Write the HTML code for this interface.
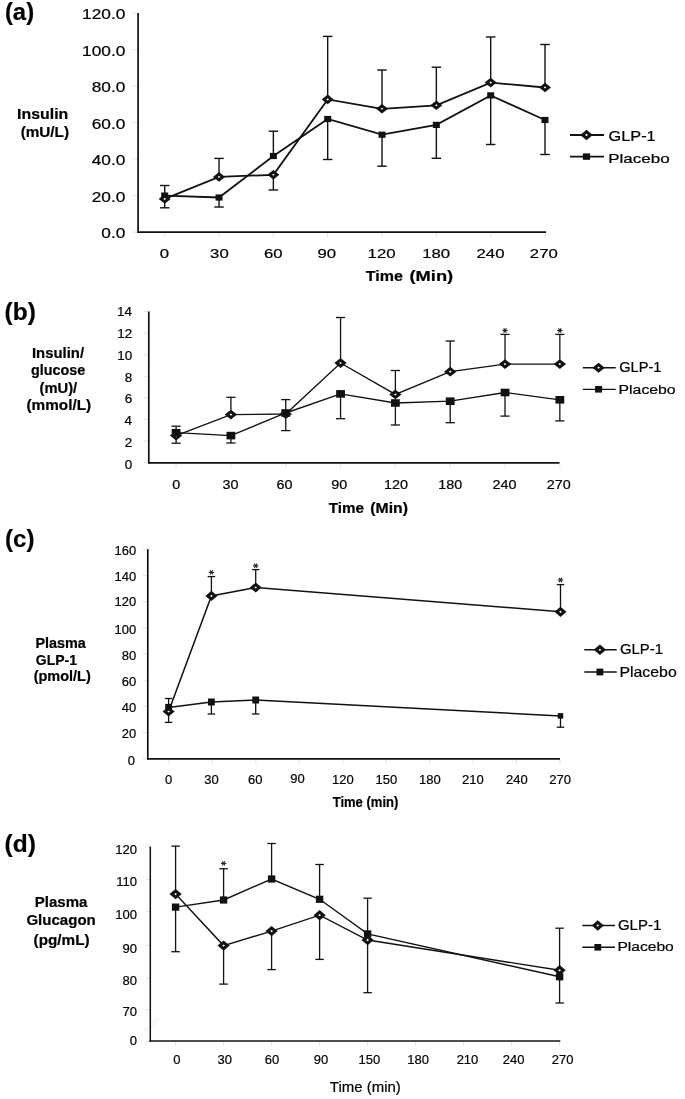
<!DOCTYPE html>
<html><head><meta charset="utf-8"><style>
html,body{margin:0;padding:0;background:#fff;}
svg{display:block;font-family:"Liberation Sans",sans-serif;filter:grayscale(1);}
text{stroke:#000;stroke-width:0.2px;}
</style></head><body>
<svg width="685" height="1099" viewBox="0 0 685 1099">
<rect width="685" height="1099" fill="#fff"/>
<line x1="144" y1="1031" x2="157.5" y2="1017.5" stroke="#e6e6e6" stroke-width="1"/>
<line x1="145.5" y1="1033" x2="159" y2="1019.5" stroke="#ececec" stroke-width="1"/>
<line x1="133.10" y1="13.10" x2="138.10" y2="13.10" stroke="#e2e2e2" stroke-width="1"/>
<line x1="133.10" y1="49.60" x2="138.10" y2="49.60" stroke="#e2e2e2" stroke-width="1"/>
<line x1="133.10" y1="86.10" x2="138.10" y2="86.10" stroke="#e2e2e2" stroke-width="1"/>
<line x1="133.10" y1="122.60" x2="138.10" y2="122.60" stroke="#e2e2e2" stroke-width="1"/>
<line x1="133.10" y1="159.10" x2="138.10" y2="159.10" stroke="#e2e2e2" stroke-width="1"/>
<line x1="133.10" y1="195.60" x2="138.10" y2="195.60" stroke="#e2e2e2" stroke-width="1"/>
<line x1="133.10" y1="232.10" x2="138.10" y2="232.10" stroke="#e2e2e2" stroke-width="1"/>
<line x1="164.70" y1="232.10" x2="164.70" y2="237.10" stroke="#e2e2e2" stroke-width="1"/>
<line x1="219.03" y1="232.10" x2="219.03" y2="237.10" stroke="#e2e2e2" stroke-width="1"/>
<line x1="273.36" y1="232.10" x2="273.36" y2="237.10" stroke="#e2e2e2" stroke-width="1"/>
<line x1="327.69" y1="232.10" x2="327.69" y2="237.10" stroke="#e2e2e2" stroke-width="1"/>
<line x1="382.02" y1="232.10" x2="382.02" y2="237.10" stroke="#e2e2e2" stroke-width="1"/>
<line x1="436.35" y1="232.10" x2="436.35" y2="237.10" stroke="#e2e2e2" stroke-width="1"/>
<line x1="490.68" y1="232.10" x2="490.68" y2="237.10" stroke="#e2e2e2" stroke-width="1"/>
<line x1="545.01" y1="232.10" x2="545.01" y2="237.10" stroke="#e2e2e2" stroke-width="1"/>
<line x1="138.10" y1="13.10" x2="138.10" y2="232.90" stroke="#111" stroke-width="1.7"/>
<line x1="137.30" y1="232.10" x2="546.00" y2="232.10" stroke="#111" stroke-width="1.7"/>
<line x1="164.70" y1="198.90" x2="164.70" y2="207.80" stroke="#111" stroke-width="1.4"/>
<line x1="159.95" y1="207.80" x2="169.45" y2="207.80" stroke="#111" stroke-width="1.4"/>
<line x1="219.03" y1="176.90" x2="219.03" y2="158.40" stroke="#111" stroke-width="1.4"/>
<line x1="214.28" y1="158.40" x2="223.78" y2="158.40" stroke="#111" stroke-width="1.4"/>
<line x1="273.36" y1="174.80" x2="273.36" y2="190.00" stroke="#111" stroke-width="1.4"/>
<line x1="268.61" y1="190.00" x2="278.11" y2="190.00" stroke="#111" stroke-width="1.4"/>
<line x1="327.69" y1="99.40" x2="327.69" y2="36.40" stroke="#111" stroke-width="1.4"/>
<line x1="322.94" y1="36.40" x2="332.44" y2="36.40" stroke="#111" stroke-width="1.4"/>
<line x1="382.02" y1="108.80" x2="382.02" y2="70.00" stroke="#111" stroke-width="1.4"/>
<line x1="377.27" y1="70.00" x2="386.77" y2="70.00" stroke="#111" stroke-width="1.4"/>
<line x1="436.35" y1="105.30" x2="436.35" y2="67.20" stroke="#111" stroke-width="1.4"/>
<line x1="431.60" y1="67.20" x2="441.10" y2="67.20" stroke="#111" stroke-width="1.4"/>
<line x1="490.68" y1="82.60" x2="490.68" y2="37.00" stroke="#111" stroke-width="1.4"/>
<line x1="485.93" y1="37.00" x2="495.43" y2="37.00" stroke="#111" stroke-width="1.4"/>
<line x1="545.01" y1="87.50" x2="545.01" y2="44.50" stroke="#111" stroke-width="1.4"/>
<line x1="540.26" y1="44.50" x2="549.76" y2="44.50" stroke="#111" stroke-width="1.4"/>
<line x1="164.70" y1="195.60" x2="164.70" y2="185.50" stroke="#111" stroke-width="1.4"/>
<line x1="159.95" y1="185.50" x2="169.45" y2="185.50" stroke="#111" stroke-width="1.4"/>
<line x1="219.03" y1="197.50" x2="219.03" y2="207.00" stroke="#111" stroke-width="1.4"/>
<line x1="214.28" y1="207.00" x2="223.78" y2="207.00" stroke="#111" stroke-width="1.4"/>
<line x1="273.36" y1="156.00" x2="273.36" y2="131.20" stroke="#111" stroke-width="1.4"/>
<line x1="268.61" y1="131.20" x2="278.11" y2="131.20" stroke="#111" stroke-width="1.4"/>
<line x1="327.69" y1="119.00" x2="327.69" y2="159.50" stroke="#111" stroke-width="1.4"/>
<line x1="322.94" y1="159.50" x2="332.44" y2="159.50" stroke="#111" stroke-width="1.4"/>
<line x1="382.02" y1="134.70" x2="382.02" y2="166.20" stroke="#111" stroke-width="1.4"/>
<line x1="377.27" y1="166.20" x2="386.77" y2="166.20" stroke="#111" stroke-width="1.4"/>
<line x1="436.35" y1="124.90" x2="436.35" y2="158.30" stroke="#111" stroke-width="1.4"/>
<line x1="431.60" y1="158.30" x2="441.10" y2="158.30" stroke="#111" stroke-width="1.4"/>
<line x1="490.68" y1="95.40" x2="490.68" y2="144.50" stroke="#111" stroke-width="1.4"/>
<line x1="485.93" y1="144.50" x2="495.43" y2="144.50" stroke="#111" stroke-width="1.4"/>
<line x1="545.01" y1="120.00" x2="545.01" y2="154.50" stroke="#111" stroke-width="1.4"/>
<line x1="540.26" y1="154.50" x2="549.76" y2="154.50" stroke="#111" stroke-width="1.4"/>
<polyline points="164.70,195.60 219.03,197.50 273.36,156.00 327.69,119.00 382.02,134.70 436.35,124.90 490.68,95.40 545.01,120.00" fill="none" stroke="#111" stroke-width="1.8" stroke-linejoin="miter"/>
<polyline points="164.70,198.90 219.03,176.90 273.36,174.80 327.69,99.40 382.02,108.80 436.35,105.30 490.68,82.60 545.01,87.50" fill="none" stroke="#111" stroke-width="1.8" stroke-linejoin="miter"/>
<rect x="161.20" y="192.50" width="7.00" height="6.20" fill="#111"/>
<rect x="215.53" y="194.40" width="7.00" height="6.20" fill="#111"/>
<rect x="269.86" y="152.90" width="7.00" height="6.20" fill="#111"/>
<rect x="324.19" y="115.90" width="7.00" height="6.20" fill="#111"/>
<rect x="378.52" y="131.60" width="7.00" height="6.20" fill="#111"/>
<rect x="432.85" y="121.80" width="7.00" height="6.20" fill="#111"/>
<rect x="487.18" y="92.30" width="7.00" height="6.20" fill="#111"/>
<rect x="541.51" y="116.90" width="7.00" height="6.20" fill="#111"/>
<path d="M158.70,198.90 L164.70,194.10 L170.70,198.90 L164.70,203.70 Z" fill="#111"/>
<path d="M163.38,198.90 L164.70,197.84 L166.02,198.90 L164.70,199.96 Z" fill="#fff"/>
<path d="M213.03,176.90 L219.03,172.10 L225.03,176.90 L219.03,181.70 Z" fill="#111"/>
<path d="M217.71,176.90 L219.03,175.84 L220.35,176.90 L219.03,177.96 Z" fill="#fff"/>
<path d="M267.36,174.80 L273.36,170.00 L279.36,174.80 L273.36,179.60 Z" fill="#111"/>
<path d="M272.04,174.80 L273.36,173.74 L274.68,174.80 L273.36,175.86 Z" fill="#fff"/>
<path d="M321.69,99.40 L327.69,94.60 L333.69,99.40 L327.69,104.20 Z" fill="#111"/>
<path d="M326.37,99.40 L327.69,98.34 L329.01,99.40 L327.69,100.46 Z" fill="#fff"/>
<path d="M376.02,108.80 L382.02,104.00 L388.02,108.80 L382.02,113.60 Z" fill="#111"/>
<path d="M380.70,108.80 L382.02,107.74 L383.34,108.80 L382.02,109.86 Z" fill="#fff"/>
<path d="M430.35,105.30 L436.35,100.50 L442.35,105.30 L436.35,110.10 Z" fill="#111"/>
<path d="M435.03,105.30 L436.35,104.24 L437.67,105.30 L436.35,106.36 Z" fill="#fff"/>
<path d="M484.68,82.60 L490.68,77.80 L496.68,82.60 L490.68,87.40 Z" fill="#111"/>
<path d="M489.36,82.60 L490.68,81.54 L492.00,82.60 L490.68,83.66 Z" fill="#fff"/>
<path d="M539.01,87.50 L545.01,82.70 L551.01,87.50 L545.01,92.30 Z" fill="#111"/>
<path d="M543.69,87.50 L545.01,86.44 L546.33,87.50 L545.01,88.56 Z" fill="#fff"/>
<line x1="570.00" y1="135.00" x2="604.00" y2="135.00" stroke="#111" stroke-width="1.8"/>
<path d="M580.20,135.00 L586.50,129.80 L592.80,135.00 L586.50,140.20 Z" fill="#111"/>
<path d="M585.11,135.00 L586.50,133.86 L587.89,135.00 L586.50,136.14 Z" fill="#fff"/>
<line x1="570.00" y1="156.60" x2="604.00" y2="156.60" stroke="#111" stroke-width="1.8"/>
<rect x="582.90" y="153.40" width="7.20" height="6.40" fill="#111"/>
<text transform="translate(4.91,20.30) scale(1.0247,1)" font-size="23.3" font-weight="bold" fill="#000">(a)</text>
<text transform="translate(17.02,118.90) scale(1.1218,1)" font-size="14.2" font-weight="bold" fill="#000">Insulin</text>
<text transform="translate(20.63,136.50) scale(1.0626,1)" font-size="14.4" font-weight="bold" fill="#000">(mU/L)</text>
<text transform="translate(82.08,19.10) scale(1.2350,1)" font-size="14.0" font-weight="normal">120.0</text>
<text transform="translate(82.08,55.60) scale(1.2350,1)" font-size="14.0" font-weight="normal">100.0</text>
<text transform="translate(91.72,92.10) scale(1.2350,1)" font-size="14.0" font-weight="normal">80.0</text>
<text transform="translate(91.72,128.60) scale(1.2350,1)" font-size="14.0" font-weight="normal">60.0</text>
<text transform="translate(91.72,165.10) scale(1.2350,1)" font-size="14.0" font-weight="normal">40.0</text>
<text transform="translate(91.72,201.60) scale(1.2350,1)" font-size="14.0" font-weight="normal">20.0</text>
<text transform="translate(101.32,238.10) scale(1.2350,1)" font-size="14.0" font-weight="normal">0.0</text>
<text transform="translate(159.63,257.50) scale(1.2600,1)" font-size="13.3" font-weight="normal">0</text>
<text transform="translate(210.10,257.50) scale(1.2600,1)" font-size="13.3" font-weight="normal">30</text>
<text transform="translate(263.99,257.50) scale(1.2600,1)" font-size="13.3" font-weight="normal">60</text>
<text transform="translate(317.42,257.50) scale(1.2600,1)" font-size="13.3" font-weight="normal">90</text>
<text transform="translate(367.61,257.50) scale(1.2600,1)" font-size="13.3" font-weight="normal">120</text>
<text transform="translate(422.16,257.50) scale(1.2600,1)" font-size="13.3" font-weight="normal">180</text>
<text transform="translate(476.52,257.50) scale(1.2600,1)" font-size="13.3" font-weight="normal">240</text>
<text transform="translate(529.82,257.50) scale(1.2600,1)" font-size="13.3" font-weight="normal">270</text>
<text transform="translate(365.84,280.50) scale(1.1575,1)" font-size="13.8" font-weight="bold" fill="#000">Time</text>
<text transform="translate(409.48,280.50) scale(1.3273,1)" font-size="13.8" font-weight="bold" fill="#000">(Min)</text>
<text transform="translate(608.48,141.00) scale(1.1833,1)" font-size="13.8" font-weight="normal" fill="#000">GLP-1</text>
<text transform="translate(608.19,162.70) scale(1.2723,1)" font-size="13.4" font-weight="normal" fill="#000">Placebo</text>
<line x1="143.80" y1="311.50" x2="148.80" y2="311.50" stroke="#e2e2e2" stroke-width="1"/>
<line x1="143.80" y1="333.11" x2="148.80" y2="333.11" stroke="#e2e2e2" stroke-width="1"/>
<line x1="143.80" y1="354.73" x2="148.80" y2="354.73" stroke="#e2e2e2" stroke-width="1"/>
<line x1="143.80" y1="376.34" x2="148.80" y2="376.34" stroke="#e2e2e2" stroke-width="1"/>
<line x1="143.80" y1="397.96" x2="148.80" y2="397.96" stroke="#e2e2e2" stroke-width="1"/>
<line x1="143.80" y1="419.57" x2="148.80" y2="419.57" stroke="#e2e2e2" stroke-width="1"/>
<line x1="143.80" y1="441.18" x2="148.80" y2="441.18" stroke="#e2e2e2" stroke-width="1"/>
<line x1="143.80" y1="462.80" x2="148.80" y2="462.80" stroke="#e2e2e2" stroke-width="1"/>
<line x1="176.10" y1="462.80" x2="176.10" y2="467.80" stroke="#e2e2e2" stroke-width="1"/>
<line x1="230.92" y1="462.80" x2="230.92" y2="467.80" stroke="#e2e2e2" stroke-width="1"/>
<line x1="285.74" y1="462.80" x2="285.74" y2="467.80" stroke="#e2e2e2" stroke-width="1"/>
<line x1="340.56" y1="462.80" x2="340.56" y2="467.80" stroke="#e2e2e2" stroke-width="1"/>
<line x1="395.38" y1="462.80" x2="395.38" y2="467.80" stroke="#e2e2e2" stroke-width="1"/>
<line x1="450.20" y1="462.80" x2="450.20" y2="467.80" stroke="#e2e2e2" stroke-width="1"/>
<line x1="505.02" y1="462.80" x2="505.02" y2="467.80" stroke="#e2e2e2" stroke-width="1"/>
<line x1="559.84" y1="462.80" x2="559.84" y2="467.80" stroke="#e2e2e2" stroke-width="1"/>
<line x1="148.80" y1="311.50" x2="148.80" y2="463.60" stroke="#111" stroke-width="1.7"/>
<line x1="148.00" y1="462.80" x2="559.50" y2="462.80" stroke="#111" stroke-width="1.7"/>
<line x1="176.10" y1="435.60" x2="176.10" y2="443.20" stroke="#111" stroke-width="1.3"/>
<line x1="171.50" y1="443.20" x2="180.70" y2="443.20" stroke="#111" stroke-width="1.3"/>
<line x1="230.92" y1="414.60" x2="230.92" y2="397.30" stroke="#111" stroke-width="1.3"/>
<line x1="226.32" y1="397.30" x2="235.52" y2="397.30" stroke="#111" stroke-width="1.3"/>
<line x1="285.74" y1="414.00" x2="285.74" y2="430.60" stroke="#111" stroke-width="1.3"/>
<line x1="281.14" y1="430.60" x2="290.34" y2="430.60" stroke="#111" stroke-width="1.3"/>
<line x1="340.56" y1="363.00" x2="340.56" y2="317.50" stroke="#111" stroke-width="1.3"/>
<line x1="335.96" y1="317.50" x2="345.16" y2="317.50" stroke="#111" stroke-width="1.3"/>
<line x1="395.38" y1="394.40" x2="395.38" y2="370.50" stroke="#111" stroke-width="1.3"/>
<line x1="390.78" y1="370.50" x2="399.98" y2="370.50" stroke="#111" stroke-width="1.3"/>
<line x1="450.20" y1="371.70" x2="450.20" y2="341.00" stroke="#111" stroke-width="1.3"/>
<line x1="445.60" y1="341.00" x2="454.80" y2="341.00" stroke="#111" stroke-width="1.3"/>
<line x1="505.02" y1="364.10" x2="505.02" y2="334.40" stroke="#111" stroke-width="1.3"/>
<line x1="500.42" y1="334.40" x2="509.62" y2="334.40" stroke="#111" stroke-width="1.3"/>
<line x1="559.84" y1="364.10" x2="559.84" y2="334.40" stroke="#111" stroke-width="1.3"/>
<line x1="555.24" y1="334.40" x2="564.44" y2="334.40" stroke="#111" stroke-width="1.3"/>
<line x1="176.10" y1="432.70" x2="176.10" y2="426.20" stroke="#111" stroke-width="1.3"/>
<line x1="171.50" y1="426.20" x2="180.70" y2="426.20" stroke="#111" stroke-width="1.3"/>
<line x1="230.92" y1="435.60" x2="230.92" y2="443.00" stroke="#111" stroke-width="1.3"/>
<line x1="226.32" y1="443.00" x2="235.52" y2="443.00" stroke="#111" stroke-width="1.3"/>
<line x1="285.74" y1="413.00" x2="285.74" y2="399.60" stroke="#111" stroke-width="1.3"/>
<line x1="281.14" y1="399.60" x2="290.34" y2="399.60" stroke="#111" stroke-width="1.3"/>
<line x1="340.56" y1="393.90" x2="340.56" y2="418.70" stroke="#111" stroke-width="1.3"/>
<line x1="335.96" y1="418.70" x2="345.16" y2="418.70" stroke="#111" stroke-width="1.3"/>
<line x1="395.38" y1="403.00" x2="395.38" y2="425.00" stroke="#111" stroke-width="1.3"/>
<line x1="390.78" y1="425.00" x2="399.98" y2="425.00" stroke="#111" stroke-width="1.3"/>
<line x1="450.20" y1="401.20" x2="450.20" y2="422.70" stroke="#111" stroke-width="1.3"/>
<line x1="445.60" y1="422.70" x2="454.80" y2="422.70" stroke="#111" stroke-width="1.3"/>
<line x1="505.02" y1="392.50" x2="505.02" y2="416.10" stroke="#111" stroke-width="1.3"/>
<line x1="500.42" y1="416.10" x2="509.62" y2="416.10" stroke="#111" stroke-width="1.3"/>
<line x1="559.84" y1="399.80" x2="559.84" y2="420.90" stroke="#111" stroke-width="1.3"/>
<line x1="555.24" y1="420.90" x2="564.44" y2="420.90" stroke="#111" stroke-width="1.3"/>
<polyline points="176.10,432.70 230.92,435.60 285.74,413.00 340.56,393.90 395.38,403.00 450.20,401.20 505.02,392.50 559.84,399.80" fill="none" stroke="#111" stroke-width="1.35" stroke-linejoin="miter"/>
<polyline points="176.10,435.60 230.92,414.60 285.74,414.00 340.56,363.00 395.38,394.40 450.20,371.70 505.02,364.10 559.84,364.10" fill="none" stroke="#111" stroke-width="1.35" stroke-linejoin="miter"/>
<path d="M169.90,435.60 L176.10,430.70 L182.30,435.60 L176.10,440.50 Z" fill="#111"/>
<path d="M174.74,435.60 L176.10,434.52 L177.46,435.60 L176.10,436.68 Z" fill="#fff"/>
<path d="M224.72,414.60 L230.92,409.70 L237.12,414.60 L230.92,419.50 Z" fill="#111"/>
<path d="M229.56,414.60 L230.92,413.52 L232.28,414.60 L230.92,415.68 Z" fill="#fff"/>
<path d="M279.54,414.00 L285.74,409.10 L291.94,414.00 L285.74,418.90 Z" fill="#111"/>
<path d="M284.38,414.00 L285.74,412.92 L287.10,414.00 L285.74,415.08 Z" fill="#fff"/>
<path d="M334.36,363.00 L340.56,358.10 L346.76,363.00 L340.56,367.90 Z" fill="#111"/>
<path d="M339.20,363.00 L340.56,361.92 L341.92,363.00 L340.56,364.08 Z" fill="#fff"/>
<path d="M389.18,394.40 L395.38,389.50 L401.58,394.40 L395.38,399.30 Z" fill="#111"/>
<path d="M394.02,394.40 L395.38,393.32 L396.74,394.40 L395.38,395.48 Z" fill="#fff"/>
<path d="M444.00,371.70 L450.20,366.80 L456.40,371.70 L450.20,376.60 Z" fill="#111"/>
<path d="M448.84,371.70 L450.20,370.62 L451.56,371.70 L450.20,372.78 Z" fill="#fff"/>
<path d="M498.82,364.10 L505.02,359.20 L511.22,364.10 L505.02,369.00 Z" fill="#111"/>
<path d="M503.66,364.10 L505.02,363.02 L506.38,364.10 L505.02,365.18 Z" fill="#fff"/>
<path d="M553.64,364.10 L559.84,359.20 L566.04,364.10 L559.84,369.00 Z" fill="#111"/>
<path d="M558.48,364.10 L559.84,363.02 L561.20,364.10 L559.84,365.18 Z" fill="#fff"/>
<rect x="171.70" y="428.90" width="8.80" height="7.60" fill="#111"/>
<rect x="226.52" y="431.80" width="8.80" height="7.60" fill="#111"/>
<rect x="281.34" y="409.20" width="8.80" height="7.60" fill="#111"/>
<rect x="336.16" y="390.10" width="8.80" height="7.60" fill="#111"/>
<rect x="390.98" y="399.20" width="8.80" height="7.60" fill="#111"/>
<rect x="445.80" y="397.40" width="8.80" height="7.60" fill="#111"/>
<rect x="500.62" y="388.70" width="8.80" height="7.60" fill="#111"/>
<rect x="555.44" y="396.00" width="8.80" height="7.60" fill="#111"/>
<line x1="502.32" y1="330.50" x2="507.72" y2="330.50" stroke="#222" stroke-width="1.1"/>
<line x1="503.67" y1="328.35" x2="506.37" y2="332.65" stroke="#222" stroke-width="1.1"/>
<line x1="506.37" y1="328.35" x2="503.67" y2="332.65" stroke="#222" stroke-width="1.1"/>
<line x1="557.14" y1="330.50" x2="562.54" y2="330.50" stroke="#222" stroke-width="1.1"/>
<line x1="558.49" y1="328.35" x2="561.19" y2="332.65" stroke="#222" stroke-width="1.1"/>
<line x1="561.19" y1="328.35" x2="558.49" y2="332.65" stroke="#222" stroke-width="1.1"/>
<line x1="582.80" y1="367.70" x2="615.70" y2="367.70" stroke="#111" stroke-width="1.35"/>
<path d="M592.40,367.70 L598.60,362.70 L604.80,367.70 L598.60,372.70 Z" fill="#111"/>
<path d="M597.24,367.70 L598.60,366.60 L599.96,367.70 L598.60,368.80 Z" fill="#fff"/>
<line x1="582.80" y1="389.30" x2="615.70" y2="389.30" stroke="#111" stroke-width="1.35"/>
<rect x="595.10" y="386.00" width="7.00" height="6.60" fill="#111"/>
<text transform="translate(4.58,320.30) scale(1.0497,1)" font-size="23.3" font-weight="bold" fill="#000">(b)</text>
<text transform="translate(31.99,358.40) scale(1.0644,1)" font-size="14.0" font-weight="bold" fill="#000">Insulin/</text>
<text transform="translate(31.03,374.90) scale(1.0256,1)" font-size="14.0" font-weight="bold" fill="#000">glucose</text>
<text transform="translate(39.56,392.70) scale(1.0535,1)" font-size="14.0" font-weight="bold" fill="#000">(mU)/</text>
<text transform="translate(26.43,409.70) scale(1.0950,1)" font-size="14.0" font-weight="bold" fill="#000">(mmol/L)</text>
<text transform="translate(117.04,316.40) scale(1.0760,1)" font-size="12.5" font-weight="normal">14</text>
<text transform="translate(117.34,338.30) scale(1.0760,1)" font-size="12.5" font-weight="normal">12</text>
<text transform="translate(117.17,360.40) scale(1.0760,1)" font-size="12.5" font-weight="normal">10</text>
<text transform="translate(124.71,382.00) scale(1.0760,1)" font-size="12.5" font-weight="normal">8</text>
<text transform="translate(124.71,403.30) scale(1.0760,1)" font-size="12.5" font-weight="normal">6</text>
<text transform="translate(124.51,425.20) scale(1.0760,1)" font-size="12.5" font-weight="normal">4</text>
<text transform="translate(124.81,446.80) scale(1.0760,1)" font-size="12.5" font-weight="normal">2</text>
<text transform="translate(124.64,468.70) scale(1.0760,1)" font-size="12.5" font-weight="normal">0</text>
<text transform="translate(172.20,489.30) scale(1.0760,1)" font-size="13.35" font-weight="normal">0</text>
<text transform="translate(222.53,489.30) scale(1.0760,1)" font-size="13.35" font-weight="normal">30</text>
<text transform="translate(276.44,489.30) scale(1.0760,1)" font-size="13.35" font-weight="normal">60</text>
<text transform="translate(331.26,489.30) scale(1.0760,1)" font-size="13.35" font-weight="normal">90</text>
<text transform="translate(383.95,489.30) scale(1.0760,1)" font-size="13.35" font-weight="normal">120</text>
<text transform="translate(438.35,489.30) scale(1.0760,1)" font-size="13.35" font-weight="normal">180</text>
<text transform="translate(492.43,489.30) scale(1.0760,1)" font-size="13.35" font-weight="normal">240</text>
<text transform="translate(546.83,489.30) scale(1.0760,1)" font-size="13.35" font-weight="normal">270</text>
<text transform="translate(328.75,513.40) scale(1.1001,1)" font-size="13.8" font-weight="bold" fill="#000">Time</text>
<text transform="translate(370.21,513.40) scale(1.1467,1)" font-size="13.8" font-weight="bold" fill="#000">(Min)</text>
<text transform="translate(619.17,372.10) scale(1.0436,1)" font-size="14.0" font-weight="normal" fill="#000">GLP-1</text>
<text transform="translate(618.60,394.20) scale(1.1782,1)" font-size="13.4" font-weight="normal" fill="#000">Placebo</text>
<line x1="142.80" y1="549.20" x2="147.80" y2="549.20" stroke="#e2e2e2" stroke-width="1"/>
<line x1="142.80" y1="575.40" x2="147.80" y2="575.40" stroke="#e2e2e2" stroke-width="1"/>
<line x1="142.80" y1="601.60" x2="147.80" y2="601.60" stroke="#e2e2e2" stroke-width="1"/>
<line x1="142.80" y1="627.80" x2="147.80" y2="627.80" stroke="#e2e2e2" stroke-width="1"/>
<line x1="142.80" y1="654.00" x2="147.80" y2="654.00" stroke="#e2e2e2" stroke-width="1"/>
<line x1="142.80" y1="680.20" x2="147.80" y2="680.20" stroke="#e2e2e2" stroke-width="1"/>
<line x1="142.80" y1="706.40" x2="147.80" y2="706.40" stroke="#e2e2e2" stroke-width="1"/>
<line x1="142.80" y1="732.60" x2="147.80" y2="732.60" stroke="#e2e2e2" stroke-width="1"/>
<line x1="142.80" y1="758.80" x2="147.80" y2="758.80" stroke="#e2e2e2" stroke-width="1"/>
<line x1="168.90" y1="758.80" x2="168.90" y2="763.80" stroke="#e2e2e2" stroke-width="1"/>
<line x1="212.36" y1="758.80" x2="212.36" y2="763.80" stroke="#e2e2e2" stroke-width="1"/>
<line x1="255.81" y1="758.80" x2="255.81" y2="763.80" stroke="#e2e2e2" stroke-width="1"/>
<line x1="299.27" y1="758.80" x2="299.27" y2="763.80" stroke="#e2e2e2" stroke-width="1"/>
<line x1="342.72" y1="758.80" x2="342.72" y2="763.80" stroke="#e2e2e2" stroke-width="1"/>
<line x1="386.18" y1="758.80" x2="386.18" y2="763.80" stroke="#e2e2e2" stroke-width="1"/>
<line x1="429.63" y1="758.80" x2="429.63" y2="763.80" stroke="#e2e2e2" stroke-width="1"/>
<line x1="473.09" y1="758.80" x2="473.09" y2="763.80" stroke="#e2e2e2" stroke-width="1"/>
<line x1="516.54" y1="758.80" x2="516.54" y2="763.80" stroke="#e2e2e2" stroke-width="1"/>
<line x1="560.00" y1="758.80" x2="560.00" y2="763.80" stroke="#e2e2e2" stroke-width="1"/>
<line x1="147.80" y1="549.20" x2="147.80" y2="759.60" stroke="#111" stroke-width="1.7"/>
<line x1="147.00" y1="758.80" x2="560.00" y2="758.80" stroke="#111" stroke-width="1.7"/>
<line x1="168.60" y1="711.50" x2="168.60" y2="722.40" stroke="#111" stroke-width="1.3"/>
<line x1="164.85" y1="722.40" x2="172.35" y2="722.40" stroke="#111" stroke-width="1.3"/>
<line x1="211.40" y1="595.90" x2="211.40" y2="576.60" stroke="#111" stroke-width="1.3"/>
<line x1="207.65" y1="576.60" x2="215.15" y2="576.60" stroke="#111" stroke-width="1.3"/>
<line x1="255.70" y1="587.50" x2="255.70" y2="569.60" stroke="#111" stroke-width="1.3"/>
<line x1="251.95" y1="569.60" x2="259.45" y2="569.60" stroke="#111" stroke-width="1.3"/>
<line x1="560.50" y1="611.80" x2="560.50" y2="584.60" stroke="#111" stroke-width="1.3"/>
<line x1="556.75" y1="584.60" x2="564.25" y2="584.60" stroke="#111" stroke-width="1.3"/>
<line x1="168.60" y1="707.40" x2="168.60" y2="698.50" stroke="#111" stroke-width="1.3"/>
<line x1="164.85" y1="698.50" x2="172.35" y2="698.50" stroke="#111" stroke-width="1.3"/>
<line x1="211.40" y1="702.00" x2="211.40" y2="714.00" stroke="#111" stroke-width="1.3"/>
<line x1="207.65" y1="714.00" x2="215.15" y2="714.00" stroke="#111" stroke-width="1.3"/>
<line x1="255.70" y1="700.00" x2="255.70" y2="714.00" stroke="#111" stroke-width="1.3"/>
<line x1="251.95" y1="714.00" x2="259.45" y2="714.00" stroke="#111" stroke-width="1.3"/>
<line x1="560.50" y1="715.80" x2="560.50" y2="727.20" stroke="#111" stroke-width="1.3"/>
<line x1="556.75" y1="727.20" x2="564.25" y2="727.20" stroke="#111" stroke-width="1.3"/>
<polyline points="168.60,707.40 211.40,702.00 255.70,700.00 560.50,715.90" fill="none" stroke="#111" stroke-width="1.5" stroke-linejoin="miter"/>
<polyline points="168.60,711.50 211.40,595.90 255.70,587.50 560.50,611.80" fill="none" stroke="#111" stroke-width="1.5" stroke-linejoin="miter"/>
<rect x="165.20" y="703.90" width="6.80" height="7.00" fill="#111"/>
<rect x="208.00" y="698.50" width="6.80" height="7.00" fill="#111"/>
<rect x="252.30" y="696.50" width="6.80" height="7.00" fill="#111"/>
<rect x="557.75" y="713.15" width="5.50" height="5.50" fill="#111"/>
<path d="M162.60,711.50 L168.60,706.40 L174.60,711.50 L168.60,716.60 Z" fill="#111"/>
<path d="M167.28,711.50 L168.60,710.38 L169.92,711.50 L168.60,712.62 Z" fill="#fff"/>
<path d="M205.40,595.90 L211.40,590.80 L217.40,595.90 L211.40,601.00 Z" fill="#111"/>
<path d="M210.08,595.90 L211.40,594.78 L212.72,595.90 L211.40,597.02 Z" fill="#fff"/>
<path d="M249.70,587.50 L255.70,582.40 L261.70,587.50 L255.70,592.60 Z" fill="#111"/>
<path d="M254.38,587.50 L255.70,586.38 L257.02,587.50 L255.70,588.62 Z" fill="#fff"/>
<path d="M554.50,611.80 L560.50,606.70 L566.50,611.80 L560.50,616.90 Z" fill="#111"/>
<path d="M559.18,611.80 L560.50,610.68 L561.82,611.80 L560.50,612.92 Z" fill="#fff"/>
<line x1="208.70" y1="572.40" x2="214.10" y2="572.40" stroke="#222" stroke-width="1.1"/>
<line x1="210.05" y1="570.25" x2="212.75" y2="574.55" stroke="#222" stroke-width="1.1"/>
<line x1="212.75" y1="570.25" x2="210.05" y2="574.55" stroke="#222" stroke-width="1.1"/>
<line x1="253.00" y1="565.80" x2="258.40" y2="565.80" stroke="#222" stroke-width="1.1"/>
<line x1="254.35" y1="563.65" x2="257.05" y2="567.95" stroke="#222" stroke-width="1.1"/>
<line x1="257.05" y1="563.65" x2="254.35" y2="567.95" stroke="#222" stroke-width="1.1"/>
<line x1="557.80" y1="580.00" x2="563.20" y2="580.00" stroke="#222" stroke-width="1.1"/>
<line x1="559.15" y1="577.85" x2="561.85" y2="582.15" stroke="#222" stroke-width="1.1"/>
<line x1="561.85" y1="577.85" x2="559.15" y2="582.15" stroke="#222" stroke-width="1.1"/>
<line x1="584.30" y1="649.80" x2="616.70" y2="649.80" stroke="#111" stroke-width="1.5"/>
<path d="M593.70,649.80 L599.90,644.50 L606.10,649.80 L599.90,655.10 Z" fill="#111"/>
<path d="M598.54,649.80 L599.90,648.63 L601.26,649.80 L599.90,650.97 Z" fill="#fff"/>
<line x1="584.30" y1="672.00" x2="616.70" y2="672.00" stroke="#111" stroke-width="1.5"/>
<rect x="596.50" y="668.60" width="6.80" height="6.80" fill="#111"/>
<text transform="translate(4.99,546.80) scale(1.0362,1)" font-size="23.3" font-weight="bold" fill="#000">(c)</text>
<text transform="translate(35.43,647.60) scale(1.0420,1)" font-size="13.8" font-weight="bold" fill="#000">Plasma</text>
<text transform="translate(35.84,664.80) scale(1.0132,1)" font-size="13.8" font-weight="bold" fill="#000">GLP-1</text>
<text transform="translate(33.68,680.80) scale(1.0504,1)" font-size="13.8" font-weight="bold" fill="#000">(pmol/L)</text>
<text transform="translate(114.61,555.00) scale(0.9850,1)" font-size="13.2" font-weight="normal">160</text>
<text transform="translate(114.61,581.20) scale(0.9850,1)" font-size="13.2" font-weight="normal">140</text>
<text transform="translate(114.61,606.40) scale(0.9850,1)" font-size="13.2" font-weight="normal">120</text>
<text transform="translate(114.61,633.60) scale(0.9850,1)" font-size="13.2" font-weight="normal">100</text>
<text transform="translate(121.86,659.80) scale(0.9850,1)" font-size="13.2" font-weight="normal">80</text>
<text transform="translate(121.86,686.00) scale(0.9850,1)" font-size="13.2" font-weight="normal">60</text>
<text transform="translate(121.86,712.20) scale(0.9850,1)" font-size="13.2" font-weight="normal">40</text>
<text transform="translate(121.86,738.40) scale(0.9850,1)" font-size="13.2" font-weight="normal">20</text>
<text transform="translate(127.67,764.60) scale(0.9850,1)" font-size="13.2" font-weight="normal">0</text>
<text transform="translate(165.03,784.00) scale(1.0000,1)" font-size="13.0" font-weight="normal">0</text>
<text transform="translate(204.28,784.00) scale(1.0000,1)" font-size="13.0" font-weight="normal">30</text>
<text transform="translate(248.05,784.00) scale(1.0000,1)" font-size="13.0" font-weight="normal">60</text>
<text transform="translate(290.27,782.80) scale(1.0000,1)" font-size="13.0" font-weight="normal">90</text>
<text transform="translate(331.92,784.00) scale(1.0000,1)" font-size="13.0" font-weight="normal">120</text>
<text transform="translate(375.42,784.00) scale(1.0000,1)" font-size="13.0" font-weight="normal">150</text>
<text transform="translate(419.02,784.00) scale(1.0000,1)" font-size="13.0" font-weight="normal">180</text>
<text transform="translate(462.08,784.00) scale(1.0000,1)" font-size="13.0" font-weight="normal">210</text>
<text transform="translate(505.98,784.00) scale(1.0000,1)" font-size="13.0" font-weight="normal">240</text>
<text transform="translate(549.18,784.00) scale(1.0000,1)" font-size="13.0" font-weight="normal">270</text>
<text transform="translate(332.67,807.00) scale(0.9182,1)" font-size="14.2" font-weight="bold" fill="#000">Time (min)</text>
<text transform="translate(619.96,654.30) scale(1.0345,1)" font-size="14.4" font-weight="normal" fill="#000">GLP-1</text>
<text transform="translate(619.39,676.60) scale(1.1420,1)" font-size="13.9" font-weight="normal" fill="#000">Placebo</text>
<line x1="145.30" y1="846.60" x2="150.30" y2="846.60" stroke="#e2e2e2" stroke-width="1"/>
<line x1="145.30" y1="879.40" x2="150.30" y2="879.40" stroke="#e2e2e2" stroke-width="1"/>
<line x1="145.30" y1="911.60" x2="150.30" y2="911.60" stroke="#e2e2e2" stroke-width="1"/>
<line x1="145.30" y1="945.30" x2="150.30" y2="945.30" stroke="#e2e2e2" stroke-width="1"/>
<line x1="145.30" y1="978.20" x2="150.30" y2="978.20" stroke="#e2e2e2" stroke-width="1"/>
<line x1="145.30" y1="1009.70" x2="150.30" y2="1009.70" stroke="#e2e2e2" stroke-width="1"/>
<line x1="145.30" y1="1041.10" x2="150.30" y2="1041.10" stroke="#e2e2e2" stroke-width="1"/>
<line x1="175.60" y1="1041.10" x2="175.60" y2="1046.10" stroke="#e2e2e2" stroke-width="1"/>
<line x1="223.60" y1="1041.10" x2="223.60" y2="1046.10" stroke="#e2e2e2" stroke-width="1"/>
<line x1="271.60" y1="1041.10" x2="271.60" y2="1046.10" stroke="#e2e2e2" stroke-width="1"/>
<line x1="319.60" y1="1041.10" x2="319.60" y2="1046.10" stroke="#e2e2e2" stroke-width="1"/>
<line x1="367.60" y1="1041.10" x2="367.60" y2="1046.10" stroke="#e2e2e2" stroke-width="1"/>
<line x1="415.60" y1="1041.10" x2="415.60" y2="1046.10" stroke="#e2e2e2" stroke-width="1"/>
<line x1="463.60" y1="1041.10" x2="463.60" y2="1046.10" stroke="#e2e2e2" stroke-width="1"/>
<line x1="511.60" y1="1041.10" x2="511.60" y2="1046.10" stroke="#e2e2e2" stroke-width="1"/>
<line x1="559.60" y1="1041.10" x2="559.60" y2="1046.10" stroke="#e2e2e2" stroke-width="1"/>
<line x1="150.30" y1="846.60" x2="150.30" y2="1041.90" stroke="#111" stroke-width="1.5"/>
<line x1="149.50" y1="1041.10" x2="560.30" y2="1041.10" stroke="#111" stroke-width="1.5"/>
<line x1="175.60" y1="894.10" x2="175.60" y2="846.10" stroke="#111" stroke-width="1.3"/>
<line x1="171.35" y1="846.10" x2="179.85" y2="846.10" stroke="#111" stroke-width="1.3"/>
<line x1="223.60" y1="945.60" x2="223.60" y2="984.10" stroke="#111" stroke-width="1.3"/>
<line x1="219.35" y1="984.10" x2="227.85" y2="984.10" stroke="#111" stroke-width="1.3"/>
<line x1="271.60" y1="931.10" x2="271.60" y2="969.60" stroke="#111" stroke-width="1.3"/>
<line x1="267.35" y1="969.60" x2="275.85" y2="969.60" stroke="#111" stroke-width="1.3"/>
<line x1="319.60" y1="915.20" x2="319.60" y2="959.40" stroke="#111" stroke-width="1.3"/>
<line x1="315.35" y1="959.40" x2="323.85" y2="959.40" stroke="#111" stroke-width="1.3"/>
<line x1="367.60" y1="940.00" x2="367.60" y2="992.70" stroke="#111" stroke-width="1.3"/>
<line x1="363.35" y1="992.70" x2="371.85" y2="992.70" stroke="#111" stroke-width="1.3"/>
<line x1="559.60" y1="970.30" x2="559.60" y2="1003.00" stroke="#111" stroke-width="1.3"/>
<line x1="555.35" y1="1003.00" x2="563.85" y2="1003.00" stroke="#111" stroke-width="1.3"/>
<line x1="175.60" y1="907.10" x2="175.60" y2="951.70" stroke="#111" stroke-width="1.3"/>
<line x1="171.35" y1="951.70" x2="179.85" y2="951.70" stroke="#111" stroke-width="1.3"/>
<line x1="223.60" y1="900.00" x2="223.60" y2="868.70" stroke="#111" stroke-width="1.3"/>
<line x1="219.35" y1="868.70" x2="227.85" y2="868.70" stroke="#111" stroke-width="1.3"/>
<line x1="271.60" y1="879.00" x2="271.60" y2="843.50" stroke="#111" stroke-width="1.3"/>
<line x1="267.35" y1="843.50" x2="275.85" y2="843.50" stroke="#111" stroke-width="1.3"/>
<line x1="319.60" y1="899.30" x2="319.60" y2="864.50" stroke="#111" stroke-width="1.3"/>
<line x1="315.35" y1="864.50" x2="323.85" y2="864.50" stroke="#111" stroke-width="1.3"/>
<line x1="367.60" y1="933.90" x2="367.60" y2="898.20" stroke="#111" stroke-width="1.3"/>
<line x1="363.35" y1="898.20" x2="371.85" y2="898.20" stroke="#111" stroke-width="1.3"/>
<line x1="559.60" y1="976.80" x2="559.60" y2="928.20" stroke="#111" stroke-width="1.3"/>
<line x1="555.35" y1="928.20" x2="563.85" y2="928.20" stroke="#111" stroke-width="1.3"/>
<polyline points="175.60,907.10 223.60,900.00 271.60,879.00 319.60,899.30 367.60,933.90 559.60,976.80" fill="none" stroke="#111" stroke-width="1.4" stroke-linejoin="miter"/>
<polyline points="175.60,894.10 223.60,945.60 271.60,931.10 319.60,915.20 367.60,940.00 559.60,970.30" fill="none" stroke="#111" stroke-width="1.4" stroke-linejoin="miter"/>
<rect x="171.90" y="903.50" width="7.40" height="7.20" fill="#111"/>
<rect x="219.90" y="896.40" width="7.40" height="7.20" fill="#111"/>
<rect x="267.90" y="875.40" width="7.40" height="7.20" fill="#111"/>
<rect x="315.90" y="895.70" width="7.40" height="7.20" fill="#111"/>
<rect x="363.90" y="930.30" width="7.40" height="7.20" fill="#111"/>
<rect x="555.90" y="973.20" width="7.40" height="7.20" fill="#111"/>
<path d="M169.50,894.10 L175.60,888.90 L181.70,894.10 L175.60,899.30 Z" fill="#111"/>
<path d="M174.26,894.10 L175.60,892.96 L176.94,894.10 L175.60,895.24 Z" fill="#fff"/>
<path d="M217.50,945.60 L223.60,940.40 L229.70,945.60 L223.60,950.80 Z" fill="#111"/>
<path d="M222.26,945.60 L223.60,944.46 L224.94,945.60 L223.60,946.74 Z" fill="#fff"/>
<path d="M265.50,931.10 L271.60,925.90 L277.70,931.10 L271.60,936.30 Z" fill="#111"/>
<path d="M270.26,931.10 L271.60,929.96 L272.94,931.10 L271.60,932.24 Z" fill="#fff"/>
<path d="M313.50,915.20 L319.60,910.00 L325.70,915.20 L319.60,920.40 Z" fill="#111"/>
<path d="M318.26,915.20 L319.60,914.06 L320.94,915.20 L319.60,916.34 Z" fill="#fff"/>
<path d="M361.50,940.00 L367.60,934.80 L373.70,940.00 L367.60,945.20 Z" fill="#111"/>
<path d="M366.26,940.00 L367.60,938.86 L368.94,940.00 L367.60,941.14 Z" fill="#fff"/>
<path d="M553.50,970.30 L559.60,965.10 L565.70,970.30 L559.60,975.50 Z" fill="#111"/>
<path d="M558.26,970.30 L559.60,969.16 L560.94,970.30 L559.60,971.44 Z" fill="#fff"/>
<line x1="220.90" y1="863.40" x2="226.30" y2="863.40" stroke="#222" stroke-width="1.1"/>
<line x1="222.25" y1="861.25" x2="224.95" y2="865.55" stroke="#222" stroke-width="1.1"/>
<line x1="224.95" y1="861.25" x2="222.25" y2="865.55" stroke="#222" stroke-width="1.1"/>
<line x1="582.30" y1="925.50" x2="615.00" y2="925.50" stroke="#111" stroke-width="1.4"/>
<path d="M591.80,925.50 L597.80,920.20 L603.80,925.50 L597.80,930.80 Z" fill="#111"/>
<path d="M596.48,925.50 L597.80,924.33 L599.12,925.50 L597.80,926.67 Z" fill="#fff"/>
<line x1="582.30" y1="947.30" x2="615.00" y2="947.30" stroke="#111" stroke-width="1.4"/>
<rect x="594.40" y="944.00" width="6.80" height="6.60" fill="#111"/>
<text transform="translate(4.58,852.00) scale(1.0497,1)" font-size="23.3" font-weight="bold" fill="#000">(d)</text>
<text transform="translate(34.78,907.30) scale(1.0597,1)" font-size="14.2" font-weight="bold" fill="#000">Plasma</text>
<text transform="translate(26.40,925.00) scale(1.0602,1)" font-size="14.2" font-weight="bold" fill="#000">Glucagon</text>
<text transform="translate(33.54,944.50) scale(1.0766,1)" font-size="14.2" font-weight="bold" fill="#000">(pg/mL)</text>
<text transform="translate(115.30,853.70) scale(0.9750,1)" font-size="13.4" font-weight="normal">120</text>
<text transform="translate(116.28,886.40) scale(0.9750,1)" font-size="13.4" font-weight="normal">110</text>
<text transform="translate(115.30,918.80) scale(0.9750,1)" font-size="13.4" font-weight="normal">100</text>
<text transform="translate(122.59,952.70) scale(0.9750,1)" font-size="13.4" font-weight="normal">90</text>
<text transform="translate(122.59,984.70) scale(0.9750,1)" font-size="13.4" font-weight="normal">80</text>
<text transform="translate(122.59,1015.70) scale(0.9750,1)" font-size="13.4" font-weight="normal">70</text>
<text transform="translate(129.84,1044.80) scale(0.9750,1)" font-size="13.4" font-weight="normal">0</text>
<text transform="translate(173.18,1064.00) scale(1.0000,1)" font-size="13.0" font-weight="normal">0</text>
<text transform="translate(217.59,1064.00) scale(1.0000,1)" font-size="13.0" font-weight="normal">30</text>
<text transform="translate(264.70,1064.00) scale(1.0000,1)" font-size="13.0" font-weight="normal">60</text>
<text transform="translate(313.82,1064.00) scale(1.0000,1)" font-size="13.0" font-weight="normal">90</text>
<text transform="translate(358.57,1064.00) scale(1.0000,1)" font-size="13.0" font-weight="normal">150</text>
<text transform="translate(407.37,1064.00) scale(1.0000,1)" font-size="13.0" font-weight="normal">180</text>
<text transform="translate(456.63,1064.00) scale(1.0000,1)" font-size="13.0" font-weight="normal">210</text>
<text transform="translate(502.83,1064.00) scale(1.0000,1)" font-size="13.0" font-weight="normal">240</text>
<text transform="translate(551.78,1064.00) scale(1.0000,1)" font-size="13.0" font-weight="normal">270</text>
<text transform="translate(329.86,1091.70) scale(1.0407,1)" font-size="14.4" font-weight="normal" fill="#000">Time (min)</text>
<text transform="translate(617.95,929.80) scale(1.0420,1)" font-size="14.4" font-weight="normal" fill="#000">GLP-1</text>
<text transform="translate(617.41,951.40) scale(1.1399,1)" font-size="13.7" font-weight="normal" fill="#000">Placebo</text>
</svg>
</body></html>
